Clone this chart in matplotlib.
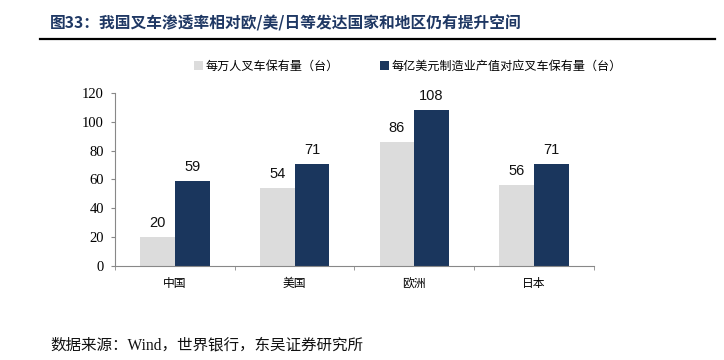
import matplotlib
matplotlib.use('Agg')
import matplotlib.pyplot as plt
import numpy as np

plt.rcParams['font.family'] = ['Noto Sans CJK SC', 'DejaVu Sans']

# data
regions = ['中国', '美国', '欧洲', '日本']
per_10k_people = [20, 54, 86, 56]
per_100m_usd = [59, 71, 108, 71]
series_names = ['每万人叉车保有量（台）', '每亿美元制造业产值对应叉车保有量（台）']
yticks = [0, 20, 40, 60, 80, 100, 120]

gray = '#DCDCDC'
navy = '#1A365D'

fig = plt.figure(figsize=(7.24, 3.6), dpi=100)
ax = fig.add_axes([0.159, 0.261, 0.661, 0.481])

x = np.arange(len(regions))
width = 0.29
b1 = ax.bar(x - width / 2, per_10k_people, width, color=gray, label=series_names[0])
b2 = ax.bar(x + width / 2, per_100m_usd, width, color=navy, label=series_names[1])

for bars in (b1, b2):
    for bar in bars:
        h = bar.get_height()
        ax.annotate(f'{h:.0f}', xy=(bar.get_x() + bar.get_width() / 2, h),
                    xytext=(0, 5), textcoords='offset points',
                    ha='center', va='bottom', fontsize=10.5,
                    family='Liberation Sans', color='#111111')

ax.set_xlim(-0.5, len(regions) - 0.5)
ax.set_ylim(0, 120)
ax.set_yticks(yticks)
ax.set_yticklabels([str(t) for t in yticks], family='Liberation Serif', fontsize=10.5)
ax.set_xticks(x)
ax.set_xticklabels(regions, fontsize=8.5)
ax.tick_params(axis='x', length=0, pad=8)
ax.set_xticks(np.arange(-0.5, len(regions)), minor=True)
ax.tick_params(axis='x', which='minor', length=3, color='#888888', direction='out')
ax.tick_params(axis='y', length=3, color='#888888', direction='out', pad=5)

for s in ['top', 'right']:
    ax.spines[s].set_visible(False)
for s in ['left', 'bottom']:
    ax.spines[s].set_color('#888888')
    ax.spines[s].set_linewidth(0.8)

ax.legend(loc='lower left', bbox_to_anchor=(0.155, 1.09), ncol=2, frameon=False,
          fontsize=8.7, handlelength=0.75, handleheight=0.75, handletextpad=0.2,
          columnspacing=3.4, borderaxespad=0)

fig.text(0.069, 0.936, '图33：我国叉车渗透率相对欧/美/日等发达国家和地区仍有提升空间',
         fontsize=11.3, fontweight='bold', color='#1F3864', va='center')
fig.add_artist(plt.Line2D([0.055, 0.988], [0.893, 0.893], color='black', linewidth=1.6))
fig.text(0.069, 0.04, '数据来源：Wind，世界银行，东吴证券研究所',
         fontsize=11.2, color='#111111', va='center',
         family=['Liberation Serif', 'Noto Sans CJK SC'])

fig.savefig('out.png', dpi=100)
